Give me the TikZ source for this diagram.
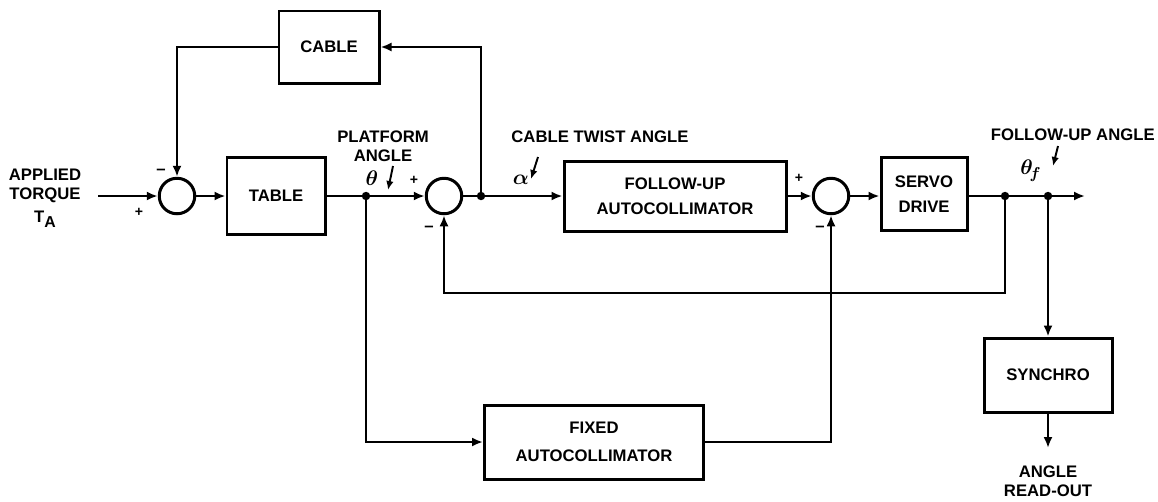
\documentclass[tikz,border=0pt]{standalone}
\usepackage{amsmath,amssymb,bm}
\usepackage{fontspec}
\setmainfont{Liberation Sans}
\usepackage{tikz}
\usetikzlibrary{arrows.meta,positioning,calc}

\begin{document}
\begin{tikzpicture}[x=0.2mm,y=-0.2mm,>={Latex[length=2.2mm,width=1.8mm]},
  every node/.style={font=\bfseries\fontsize{9.5}{11}\selectfont},
  blk/.style={draw,line width=1.7pt,align=center,inner sep=0pt},
  sum/.style={draw,circle,line width=1.7pt,minimum size=7.1mm,inner sep=0pt},
  sig/.style={line width=1.3pt},
  ptr/.style={line width=1.1pt,-{Latex[length=1.8mm,width=1.5mm]}},
  sym/.style={font=\fontsize{13}{13}\selectfont,inner sep=0pt},
  lbl/.style={align=center,inner sep=0pt}]
  \useasboundingbox (0,0) rectangle (1158,501);

  \node[blk,minimum width=20mm,minimum height=14.4mm] (cable) at (329,47) {CABLE};
  \node[blk,minimum width=19.6mm,minimum height=15.4mm] (table) at (276,196) {TABLE};
  \node[sum] (s1) at (177,196) {};
  \node[sum] (s2) at (444,196) {};
  \node[sum] (s3) at (831,196) {};
  \node[blk,minimum width=44.4mm,minimum height=14mm] (fua) at (675,196) {FOLLOW-UP\\[3pt]AUTOCOLLIMATOR};
  \node[blk,minimum width=17.2mm,minimum height=14.6mm] (servo) at (924,194) {SERVO\\[3pt]DRIVE};
  \node[blk,minimum width=43.8mm,minimum height=14.8mm] (fixed) at (594,442) {FIXED\\[5pt]AUTOCOLLIMATOR};
  \node[blk,minimum width=25.6mm,minimum height=14.8mm] (synchro) at (1048,375) {SYNCHRO};

  \coordinate (in) at (98,196);
  \coordinate (j1) at (366,196);
  \coordinate (j2) at (481,196);
  \coordinate (j3) at (1005,196);
  \coordinate (j4) at (1048,196);
  \coordinate (out) at (1085,196);
  \coordinate (ro) at (1048,448);

  \draw[sig,->] (in) -- (s1);
  \draw[sig,->] (s1) -- (table);
  \draw[sig,->] (table) -- (s2);
  \draw[sig,->] (s2) -- (fua);
  \draw[sig,->] (fua) -- (s3);
  \draw[sig,->] (s3) -- (s3 -| servo.west);
  \draw[sig,->] (j3 -| servo.east) -- (out);
  \draw[sig,->] (j2) |- (cable);
  \draw[sig,->] (cable) -| (s1);
  \draw[sig,->] (j1) |- (fixed);
  \draw[sig,->] (fixed) -| (s3);
  \draw[sig,->] (j3) -- ++(0,97) -| (s2);
  \draw[sig,->] (j4) -- (synchro);
  \draw[sig,->] (synchro) -- (ro);
  \foreach \j in {j1,j2,j3,j4} \fill (\j) circle (2.4pt);

  \node[lbl] (torque) at (45,198) {APPLIED\\TORQUE\\[2pt]T\raisebox{-0.5ex}{\small A}};
  \node[lbl] (plat) at (383,146) {PLATFORM\\ANGLE};
  \node[lbl] (twist) at (600,137) {CABLE TWIST ANGLE};
  \node[lbl,anchor=east] (fang) at (1155,135) {FOLLOW-UP ANGLE};
  \node[lbl] (read) at (1048,481) {ANGLE\\READ-OUT};

  \node[sym] (th) at (372,178) {$\bm{\theta}$};
  \node[sym] (al) at (521,180) {$\bm{\alpha}$};
  \node[sym] (thf) at (1031,171) {$\bm{\theta}_{\!\bm{f}}$};
  \coordinate (tha) at (393,166); \coordinate (thb) at (388,190);
  \coordinate (ala) at (538,157); \coordinate (alb) at (531,179);
  \coordinate (tfa) at (1058,146); \coordinate (tfb) at (1053,166);
  \draw[ptr] (tha) -- (thb);
  \draw[ptr] (ala) -- (alb);
  \draw[ptr] (tfa) -- (tfb);

  \node[font=\bfseries\footnotesize] (p1) at (139,212) {+};
  \node (m1) at (161,172) {--};
  \node[font=\bfseries\footnotesize] (p2) at (414,180) {+};
  \node (m2) at (429,229) {--};
  \node[font=\bfseries\footnotesize] (p3) at (799,178) {+};
  \node (m3) at (820,229) {--};
\end{tikzpicture}
\end{document}
